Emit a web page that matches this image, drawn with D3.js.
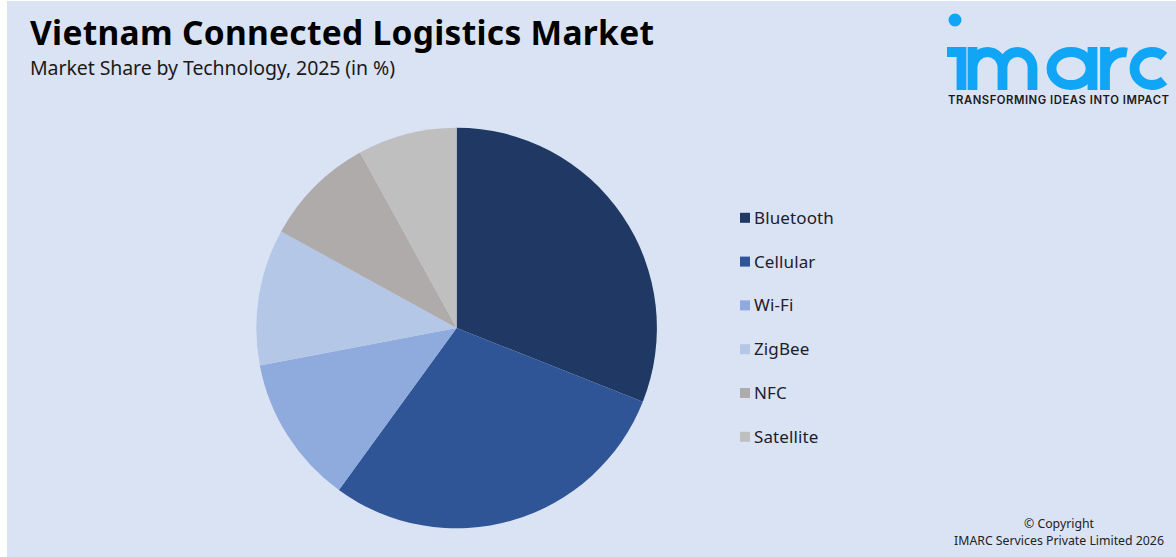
<!DOCTYPE html>
<html><head><meta charset="utf-8">
<script src="https://cdn.jsdelivr.net/npm/d3@7"></script>
<style>html,body{margin:0;padding:0;background:#fff}svg{display:block}text{font-family:"Noto Sans",sans-serif}</style>
</head><body><svg id="c" width="1176" height="557"></svg>
<script>
const categories=["Bluetooth","Cellular","Wi-Fi","ZigBee","NFC","Satellite"];
const shares=[31,29,12,11,9,8];
const colors=["#1F3864","#2F5597","#8FAADC","#B4C7E7","#AFABAB","#BFBFBF"];
const titleText="Vietnam Connected Logistics Market";
const subtitleText="Market Share by Technology, 2025 (in %)";
const tagline="TRANSFORMING IDEAS INTO IMPACT";
const copyright=["© Copyright","IMARC Services Private Limited 2026"];
const svg=d3.select("#c");
svg.append("rect").attr("x",7).attr("y",1).attr("width",1169).attr("height",556).attr("fill","#DAE3F3");
svg.append("text").attr("x",30).attr("y",45).attr("font-size",33.5).attr("font-weight",700).attr("fill","#000").attr("textLength",624).attr("lengthAdjust","spacing").text(titleText);
svg.append("text").attr("x",30).attr("y",75).attr("font-size",19.5).attr("fill","#1a1a1a").attr("textLength",365).text(subtitleText);
const color=d3.scaleOrdinal(categories,colors);
const pie=d3.pie().sort(null).value(d=>d)(shares);
const arc=d3.arc().innerRadius(0).outerRadius(200.3);
const g=svg.append("g").attr("transform","translate(456.6,328)");
g.selectAll("path").data(pie).join("path").attr("d",arc).attr("fill",(d,i)=>colors[i]);
const ly=d3.scalePoint(categories,[218,437]);
const lg=svg.append("g");
categories.forEach(c=>{
 lg.append("rect").attr("x",740).attr("y",ly(c)-5.2).attr("width",10).attr("height",10).attr("fill",color(c));
 lg.append("text").attr("x",754).attr("y",ly(c)+5.8).attr("font-size",17).attr("letter-spacing",0.12).attr("fill","#1a2030").text(c);
});
const blue="#10A5F5";
const logo=svg.append("g");
logo.append("circle").attr("cx",955).attr("cy",20).attr("r",6.5).attr("fill",blue);
logo.append("path").attr("fill","none").attr("stroke",blue).attr("stroke-width",9.8)
 .attr("d","M947 52H961.5V90"
  +"M972.5 90V47M972.5 68A15 16 0 0 1 1002.5 68V90M1002.5 68A15 16 0 0 1 1032.5 68V90"
  +"M1092.5 47V90"
  +"M1105 90V47M1105 71A19 19 0 0 1 1127 52.5"
  +"M1164 56.5A17.5 16.5 0 1 0 1164 80.5");
logo.append("ellipse").attr("cx",1071).attr("cy",68.5).attr("rx",19.5).attr("ry",16.5).attr("fill","none").attr("stroke",blue).attr("stroke-width",9.8);
svg.append("text").attr("x",948).attr("y",104).attr("font-size",11.3).attr("font-weight",600).style("font-family","Inter").attr("fill","#1a1a1a").attr("textLength",221).text(tagline);
copyright.forEach((t,i)=>svg.append("text").attr("x",1059).attr("y",528+i*17).attr("text-anchor","middle").attr("font-size",12.3).attr("fill","#222").text(t));
</script></body></html>
